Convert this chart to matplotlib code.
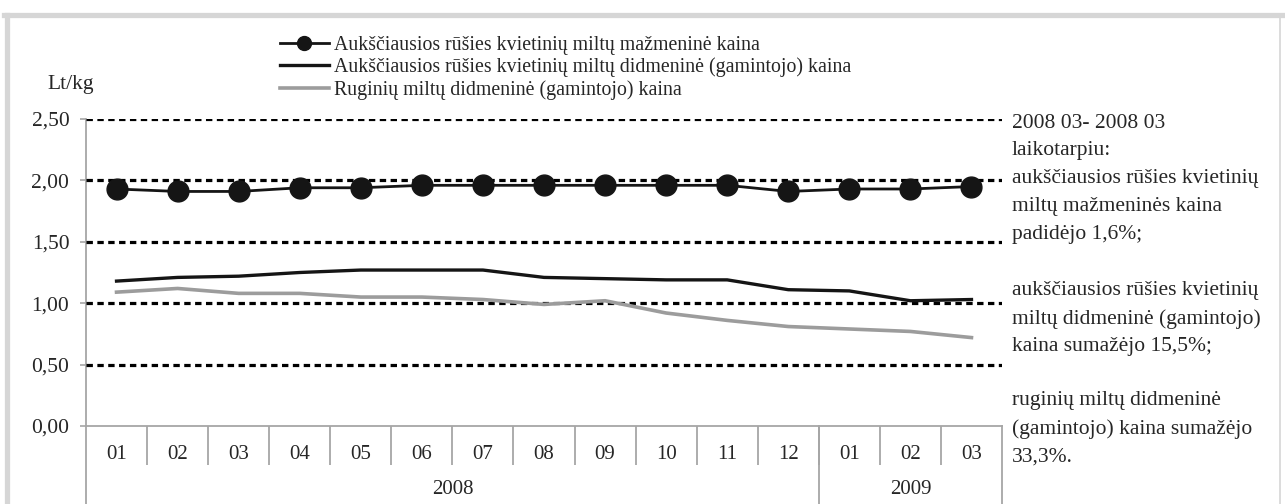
'''
Miltu kainu grafikas
'''

# Imports
import matplotlib
matplotlib.use('Agg')
import matplotlib.pyplot as plt
from matplotlib.lines import Line2D
from matplotlib.ticker import FixedLocator, FuncFormatter



# Data
months = ['01', '02', '03', '04', '05', '06', '07', '08', '09', '10', '11', '12', '01', '02', '03']
years = ['2008', '2009']
year_lengths = [12, 3]

retail_wheat = [1.93, 1.91, 1.91, 1.94, 1.94, 1.96, 1.96, 1.96, 1.96, 1.96, 1.96, 1.91, 1.93, 1.93, 1.95]
wholesale_wheat = [1.18, 1.21, 1.22, 1.25, 1.27, 1.27, 1.27, 1.21, 1.20, 1.19, 1.19, 1.11, 1.10, 1.02, 1.03]
wholesale_rye = [1.09, 1.12, 1.08, 1.08, 1.05, 1.05, 1.03, 0.99, 1.02, 0.92, 0.86, 0.81, 0.79, 0.77, 0.72]

labels = ['Aukščiausios rūšies kvietinių miltų mažmeninė kaina',
          'Aukščiausios rūšies kvietinių miltų didmeninė (gamintojo) kaina',
          'Ruginių miltų didmeninė (gamintojo) kaina']

yticks = [0.0, 0.5, 1.0, 1.5, 2.0, 2.5]

note_1 = ['2008 03- 2008 03', 'laikotarpiu:', 'aukščiausios rūšies kvietinių',
          'miltų mažmeninės kaina', 'padidėjo 1,6%;']
note_2 = ['aukščiausios rūšies kvietinių', 'miltų didmeninė (gamintojo)',
          'kaina sumažėjo 15,5%;']
note_3 = ['ruginių miltų didmeninė', '(gamintojo) kaina sumažėjo', '33,3%.']

# Params
W, H = 1285, 504
axis_gray = '#a6a6a6'
text_col = '#262626'
plt.rcParams['font.family'] = ['Liberation Serif', 'DejaVu Serif']

fig = plt.figure(figsize=(W / 100, H / 100), dpi=100)
# plot box in pixels: x 86..1002, y 119..426
ax = fig.add_axes([86 / W, 1 - 426 / H, (1002 - 86) / W, (426 - 119) / H])

x = list(range(len(months)))

# Grid lines
for yv in yticks[1:]:
    ax.axhline(yv, color='black', lw=2.3, linestyle=(0, (2.0, 1.4)), zorder=1)

# Series
ax.plot(x, retail_wheat, color='#151515', lw=2.0, marker='o', markersize=15, zorder=4)
ax.plot(x, wholesale_wheat, color='#151515', lw=2.4, zorder=3)
ax.plot(x, wholesale_rye, color='#9c9c9c', lw=2.6, zorder=2)

ax.set_xlim(-0.5, len(months) - 0.5)
ax.set_ylim(0, 2.5)

# Spines
for s in ['top', 'right', 'left']:
    ax.spines[s].set_visible(False)
ax.spines['bottom'].set_color(axis_gray)
ax.spines['bottom'].set_linewidth(1.3)

# Y axis
ax.yaxis.set_major_locator(FixedLocator(yticks))
ax.yaxis.set_major_formatter(FuncFormatter(lambda v, p: ('%.2f' % v).replace('.', ',')))
ax.tick_params(axis='y', length=4.5, width=1.2, color=axis_gray, pad=7.5, labelsize=15.5, labelcolor=text_col)

# X axis: month labels and separators
ax.set_xticks(x)
ax.set_xticklabels(months)
ax.set_xticks([i + 0.5 for i in x[:-1]], minor=True)
ax.tick_params(axis='x', which='major', length=0, pad=14, labelsize=15, labelcolor=text_col)
ax.tick_params(axis='x', which='minor', length=28, width=1.3, color=axis_gray)

# Year level
trans = ax.get_xaxis_transform()
low = (426 - 504) / (426 - 119)
year_y = (426 - 490) / (426 - 119)
start = -0.5
bounds = [start]
for name, n in zip(years, year_lengths):
    ax.text(start + n / 2, year_y, name, transform=trans, ha='center', va='center',
            fontsize=15, color=text_col)
    start += n
    bounds.append(start)
for b in bounds:
    top = 1 if b == bounds[0] else 0
    ax.plot([b, b], [low, top], transform=trans, color=axis_gray, lw=1.3, clip_on=False, zorder=0)

# Unit label
fig.text(47 / W, 1 - 84 / H, 'Lt/kg', fontsize=15.5, color=text_col, va='center', ha='left')

# Legend
handles = [Line2D([], [], color='#151515', lw=2.0, marker='o', markersize=10),
           Line2D([], [], color='#151515', lw=2.4),
           Line2D([], [], color='#9c9c9c', lw=2.6)]
fig.legend(handles, labels, loc='upper left', bbox_to_anchor=(280 / W, 1 - 36 / H),
           frameon=False, fontsize=14.3, handlelength=2.45, handletextpad=0.25,
           labelspacing=0.13, borderpad=0, borderaxespad=0, labelcolor=text_col)

# Notes on the right, one text per line (28 px pitch)
for lines, ytop in [(note_1, 123), (note_2, 291), (note_3, 401)]:
    for k, line in enumerate(lines):
        fig.text(1012 / W, 1 - (ytop + 27.8 * k) / H, line, fontsize=15.5, color=text_col,
                 va='center', ha='left')

# Outer frame
fig.add_artist(Line2D([6.5 / W, 6.5 / W], [0, 1 - 14.5 / H], color='#d6d6d6', lw=3.8))
fig.add_artist(Line2D([4 / W, 1], [1 - 14.5 / H, 1 - 14.5 / H], color='#d6d6d6', lw=3.8))
fig.add_artist(Line2D([1279.5 / W, 1279.5 / W], [0, 1 - 14.5 / H], color='#d6d6d6', lw=1.2))

fig.savefig('out.png', dpi=100)
